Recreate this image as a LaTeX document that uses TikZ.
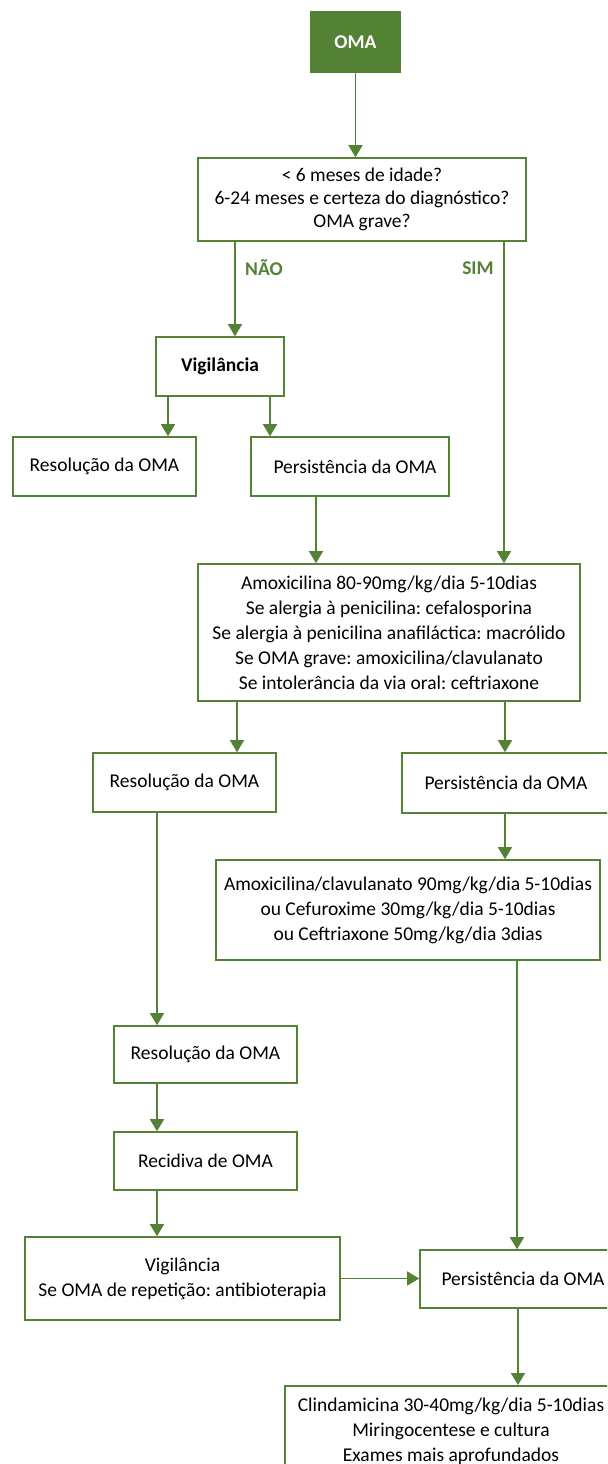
\documentclass[tikz,border=0pt]{standalone}
\usepackage{fontspec}
\setmainfont{Carlito}
\usetikzlibrary{arrows.meta}
\usepackage{xcolor}
\definecolor{verde}{HTML}{548235}
\frenchspacing

\begin{document}
\begin{tikzpicture}[x=0.5pt,y=-0.5pt,
        caixa/.style={draw=verde,line width=0.8pt,align=center,inner sep=0pt,font=\fontsize{9.75}{12.5}\selectfont},
        seta/.style={draw=verde,line width=0.8pt,-{Triangle[width=7pt,length=6pt]}},
        rotulo/.style={text=verde,font=\fontsize{9.75}{12}\selectfont\bfseries}]
        \useasboundingbox (0,0) rectangle (607,1464);
        \clip (0,0) rectangle (607,1464);
        \foreach \n/\x in {nao/235,sim/504,c168/168,c270/270,c316/316,c237/237,c505/505,c157/157,c517/517,c518/518}
            \coordinate (\n) at (\x,0);
        \node[caixa,fill=verde,text=white,font=\fontsize{9.75}{12.5}\selectfont\bfseries,minimum width=44.5pt,minimum height=30pt] (oma) at (355.5,42) {OMA};
        \node[caixa,font=\fontsize{9.75}{11.5}\selectfont,minimum width=164pt,minimum height=41.5pt] (pergunta) at (362,199.5) {< 6 meses de idade?\\6-24 meses e certeza do diagnóstico?\\OMA grave?};
        \node[rotulo] (lnao) at (264,268) {NÃO};
        \node[rotulo] (lsim) at (478,268) {SIM};
        \node[caixa,font=\fontsize{9.75}{12.5}\selectfont\bfseries,minimum width=64pt,minimum height=29.5pt] (vig) at (220,366.5) {Vigilância};
        \node[caixa,minimum width=91.5pt,minimum height=29.5pt] (res1) at (104.5,466.5) {Resolução da OMA};
        \node[caixa,minimum width=99pt,minimum height=29.5pt] (per1) at (350,466.5) {\hspace{5pt}Persistência da OMA};
        \node[caixa,minimum width=191pt,minimum height=68.5pt] (amox) at (389,632.5) {Amoxicilina 80-90mg/kg/dia 5-10dias\\Se alergia à penicilina: cefalosporina\\Se alergia à penicilina anafiláctica: macrólido\\Se OMA grave: amoxicilina/clavulanato\\Se intolerância da via oral: ceftriaxone};
        \node[caixa,minimum width=91.5pt,minimum height=29.5pt] (res2) at (184.5,782.5) {Resolução da OMA};
        \node[caixa,minimum width=104pt,minimum height=30pt] (per2) at (506,783) {Persistência da OMA};
        \node[caixa,minimum width=192pt,minimum height=50pt] (clav) at (408,910) {Amoxicilina/clavulanato 90mg/kg/dia 5-10dias\\ou Cefuroxime 30mg/kg/dia 5-10dias\\ou Ceftriaxone 50mg/kg/dia 3dias};
        \node[caixa,minimum width=91.5pt,minimum height=28.5pt] (res3) at (205.5,1054.5) {Resolução da OMA};
        \node[caixa,minimum width=91.5pt,minimum height=29pt] (rec) at (205.5,1161) {Recidiva de OMA};
        \node[caixa,minimum width=157.5pt,minimum height=41.5pt] (vig2) at (182.5,1278.5) {Vigilância\\Se OMA de repetição: antibioterapia};
        \node[caixa,minimum width=103pt,minimum height=29pt] (per3) at (523,1279) {Persistência da OMA};
        \node[caixa,anchor=north,inner ysep=6pt,minimum width=166pt] (clin) at (451,1385) {Clindamicina 30-40mg/kg/dia 5-10dias\\Miringocentese e cultura\\Exames mais aprofundados};
        \draw[seta] (oma.south) -- (oma.south |- pergunta.north);
        \foreach \a/\b/\c in {pergunta/vig/nao,pergunta/amox/sim,vig/res1/c168,vig/per1/c270,per1/amox/c316,amox/res2/c237,amox/per2/c505,per2/clav/c505,res2/res3/c157,res3/rec/c157,rec/vig2/c157,clav/per3/c517,per3/clin/c518}
            \draw[seta] (\a.south -| \c) -- (\b.north -| \c);
        \draw[seta] (vig2.east) -- (vig2.east -| per3.west);
    \end{tikzpicture}
\end{document}
